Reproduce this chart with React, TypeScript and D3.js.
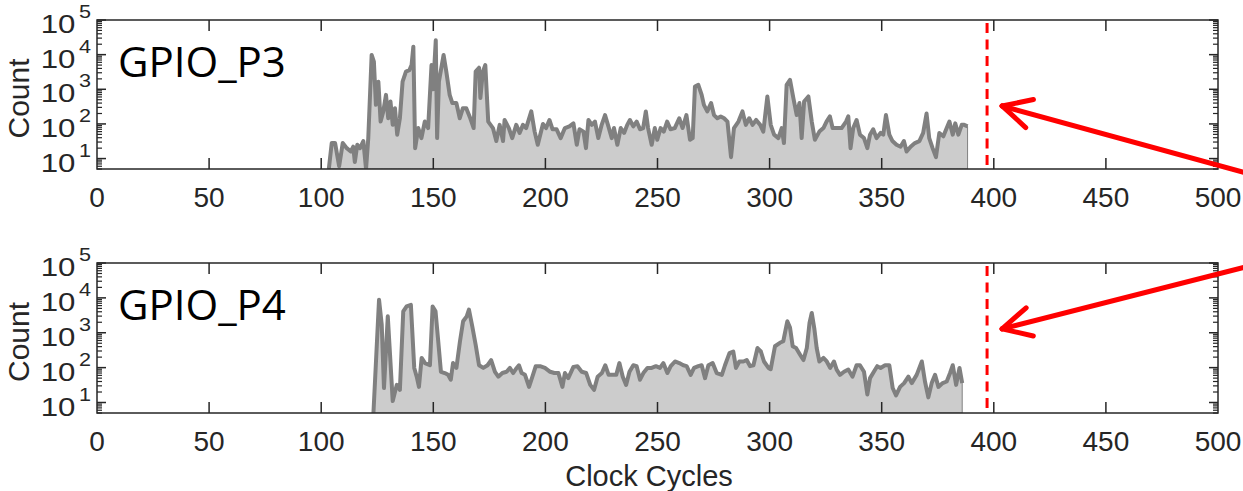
import { useEffect, useRef } from "react";
import * as d3 from "d3";

const W = 1243;
const H = 491;

// GPIO_P3 trace (clock cycle, count)
const p3Cycles = [103.4, 104.7, 106.2, 108, 109.6, 111.4, 113.2, 114.3, 115, 116.1, 117.3, 118.8, 120, 121, 122.5, 123.5, 124.4, 125.5, 126.5, 127.7, 128.9, 129.9, 130.9, 131.9, 132.9, 133.9, 135.1, 136.3, 137.8, 139.3, 140.3, 141.1, 141.9, 143.3, 144.7, 146.2, 147.7, 149.2, 149.9, 151.1, 151.7, 152.5, 154.6, 155.8, 157.3, 158.5, 160.3, 161.8, 163.2, 164.7, 166.5, 168, 168.9, 170.4, 171, 172.1, 173.2, 174.5, 176.6, 178.1, 179.6, 181.1, 181.8, 183.7, 185.2, 187, 188.5, 190, 191.4, 193.7, 195.2, 196.6, 198.9, 200.3, 201.8, 203.2, 205, 206.8, 208.7, 210.7, 212.5, 214, 215.2, 217, 218.1, 219.2, 220.7, 222.1, 223.6, 225.1, 226.6, 228.1, 229.6, 230.6, 232.1, 233.6, 235.1, 236.5, 237.7, 239.2, 240.7, 242.2, 243.6, 244.8, 245.8, 247.4, 248.8, 249.9, 251.4, 252.8, 254.3, 255.8, 257.7, 259.7, 261.2, 262.9, 264.5, 265.7, 266.7, 268.2, 269.7, 270.7, 272.2, 273.9, 275.2, 276.7, 278.2, 279.7, 281.2, 282.8, 284.1, 286.1, 287.9, 289.4, 290.9, 292.4, 294, 295.8, 297.2, 299, 300.5, 302, 303.9, 305.4, 306.4, 307.6, 309.1, 310.6, 312.1, 313.3, 314.3, 315.4, 317.3, 318.8, 320.2, 322.2, 324, 325.4, 326.9, 328.1, 329.9, 332.1, 334.1, 335.1, 336.1, 337.3, 338.8, 340.3, 342.1, 343.6, 344.8, 346.2, 347.7, 349.5, 350.7, 351.9, 353.4, 354.8, 356.6, 358.4, 359.9, 361.1, 362.9, 364.8, 366.8, 368.5, 370, 371.2, 372.7, 374.2, 375.7, 377.5, 379, 380.2, 381.7, 382.8, 384.2, 385.7, 386.8, 388.3];
const p3Counts = [5, 28, 28, 6, 28, 20, 16, 22, 8, 25, 20, 32, 5, 39, 9800, 6300, 355, 1660, 117, 230, 690, 146, 445, 94, 285, 49, 146, 1660, 3240, 3550, 5000, 17000, 20, 76, 39, 117, 76, 5000, 1000, 26000, 39, 1660, 9800, 3240, 690, 400, 400, 146, 285, 285, 146, 76, 3240, 4200, 560, 3240, 5000, 117, 76, 32, 94, 32, 130, 76, 39, 94, 55, 94, 76, 230, 60, 25, 100, 76, 130, 70, 70, 39, 76, 85, 104, 25, 70, 60, 20, 130, 94, 117, 39, 94, 180, 85, 39, 76, 25, 76, 55, 94, 130, 85, 117, 70, 76, 230, 76, 25, 76, 35, 76, 60, 117, 70, 76, 146, 76, 180, 35, 39, 1200, 1340, 690, 355, 230, 400, 180, 146, 165, 146, 117, 11, 76, 117, 230, 94, 146, 94, 130, 94, 60, 620, 94, 49, 39, 76, 28, 1340, 1860, 560, 180, 400, 39, 445, 620, 117, 35, 60, 76, 117, 165, 76, 76, 76, 117, 165, 20, 76, 130, 49, 39, 20, 49, 70, 39, 55, 49, 180, 49, 32, 25, 22, 32, 16, 22, 28, 32, 55, 200, 39, 20, 11, 55, 44, 76, 117, 49, 104, 49, 94, 94, 85];

// GPIO_P4 trace (clock cycle, count)
const p4Cycles = [123.3, 125.8, 127, 128, 129.7, 130.7, 131.9, 133.7, 135.1, 136.6, 138.1, 140, 141.5, 142.6, 143.6, 144.8, 146.3, 148.5, 149.7, 151, 152.2, 153.4, 155.1, 156.6, 157.8, 158.8, 160.3, 161.9, 163.3, 164.9, 165.9, 167.4, 168.9, 170.4, 172.3, 174.2, 175.8, 177.5, 179, 180.8, 182.7, 184.2, 185.6, 187.2, 188.2, 189.4, 190.9, 192.7, 194.2, 195.7, 197.6, 199.8, 202.1, 204, 205.8, 207.6, 208.7, 210.2, 212.5, 214.3, 216.2, 218.2, 220, 221.7, 223.3, 225.2, 226.7, 228.2, 230.1, 231.6, 233, 234.5, 236, 237.5, 239.2, 240.7, 242.2, 243.7, 245.5, 247.4, 249.3, 251.1, 252.6, 254.4, 255.9, 257.8, 259.7, 261.5, 263, 264.8, 266.3, 268.2, 269.7, 271.2, 272.7, 274.6, 276.4, 278.7, 280.1, 282.1, 283.8, 285, 286.5, 288.3, 289.8, 291.3, 292.8, 294.6, 296.1, 297.5, 299.5, 300.5, 302.4, 304.6, 306.1, 307.9, 309.1, 310.3, 311.8, 313.6, 315.1, 316.6, 317.8, 318.8, 320, 321, 322.2, 324, 325.5, 327, 328.7, 329.9, 331.4, 333.2, 335.1, 337, 338.8, 340.3, 342.1, 343.6, 344.8, 346.5, 348, 349.5, 351.5, 353.4, 354.9, 356.4, 358.2, 360, 361.9, 363.4, 365.6, 367.9, 369.3, 370.8, 372.3, 373.8, 375.3, 377.2, 379, 380.5, 381.7, 383.2, 384.7, 385.9];
const p4Counts = [5, 8900, 1700, 26, 2950, 235, 11, 32, 23, 4100, 5700, 6300, 98, 55, 28, 190, 135, 117, 5700, 4100, 570, 76, 70, 62, 45, 135, 98, 570, 2130, 2950, 4600, 1500, 450, 117, 98, 117, 165, 76, 55, 70, 76, 98, 70, 98, 117, 70, 62, 28, 55, 110, 110, 98, 76, 70, 70, 28, 70, 50, 105, 110, 76, 70, 32, 23, 55, 70, 117, 62, 62, 62, 135, 55, 32, 76, 117, 110, 45, 70, 98, 98, 110, 98, 135, 70, 110, 150, 135, 117, 110, 62, 98, 110, 117, 50, 117, 135, 70, 62, 117, 260, 290, 98, 150, 150, 165, 110, 117, 365, 290, 150, 98, 90, 410, 515, 570, 2130, 1400, 410, 365, 235, 165, 365, 1900, 3700, 1250, 365, 150, 190, 150, 98, 150, 88, 62, 76, 88, 55, 117, 117, 76, 17, 50, 76, 110, 98, 117, 117, 26, 16, 28, 36, 55, 36, 62, 150, 40, 14, 36, 62, 28, 36, 40, 70, 117, 32, 98, 36];

const xTicks = [0, 50, 100, 150, 200, 250, 300, 350, 400, 450, 500];
const yExponents = [1, 2, 3, 4, 5];
const xDomain = [0, 500];
const yDomain = [5, 1e5];
const panelNames = ["GPIO_P3", "GPIO_P4"];
const markerCycle = 397;
// arrow annotations: [tip cycle, tip count, tail cycle, tail count]
const arrowTips = [[403.7, 330, 514, 3.6], [403.7, 1290, 514, 82000]];

const panels = [
  { name: panelNames[0], cycles: p3Cycles, counts: p3Counts, top: 20, bottom: 169, arrow: arrowTips[0] },
  { name: panelNames[1], cycles: p4Cycles, counts: p4Counts, top: 263, bottom: 413, arrow: arrowTips[1] },
];

const App = () => {
  const svgRef = useRef<SVGSVGElement>(null);

  useEffect(() => {
    const svg = d3.select(svgRef.current);
    svg.selectAll("*").remove();
    const left = 97;
    const right = 1218;
    const axisColor = "#262626";
    const tickFont = "Liberation Sans, Arial, sans-serif";

    const x = d3.scaleLinear().domain(xDomain).range([left, right]);

    panels.forEach((p, pi) => {
      const y = d3.scaleLog().domain(yDomain).range([p.bottom, p.top]).clamp(true);
      const g = svg.append("g");
      const clipId = `clip${pi}`;
      g.append("clipPath").attr("id", clipId)
        .append("rect").attr("x", left).attr("y", p.top).attr("width", right - left).attr("height", p.bottom - p.top);

      const pts = p.cycles.map((c, i) => [c, p.counts[i]] as [number, number]);
      const area = d3.area<[number, number]>()
        .x((d) => x(d[0]))
        .y0(p.bottom)
        .y1((d) => y(d[1]));
      const line = d3.line<[number, number]>()
        .x((d) => x(d[0]))
        .y((d) => y(d[1]));

      const plot = g.append("g").attr("clip-path", `url(#${clipId})`);
      plot.append("path").attr("d", area(pts)).attr("fill", "#cccccc")
        .attr("stroke", "#808080").attr("stroke-width", 1);
      plot.append("path").attr("d", line(pts)).attr("fill", "none")
        .attr("stroke", "#808080").attr("stroke-width", 4).attr("stroke-linejoin", "round");

      // frame
      g.append("rect").attr("x", left).attr("y", p.top).attr("width", right - left).attr("height", p.bottom - p.top)
        .attr("fill", "none").attr("stroke", axisColor).attr("stroke-width", 1.5);

      // x ticks (top and bottom, inward)
      xTicks.forEach((t) => {
        const xx = x(t);
        if (t > xDomain[0] && t < xDomain[1]) {
          g.append("line").attr("x1", xx).attr("x2", xx).attr("y1", p.bottom).attr("y2", p.bottom - 11)
            .attr("stroke", axisColor).attr("stroke-width", 1.5);
          g.append("line").attr("x1", xx).attr("x2", xx).attr("y1", p.top).attr("y2", p.top + 11)
            .attr("stroke", axisColor).attr("stroke-width", 1.5);
        }
        g.append("text").attr("x", xx).attr("y", p.bottom + 38).attr("text-anchor", "middle")
          .attr("font-family", tickFont).attr("font-size", 28).attr("fill", axisColor).text(t);
      });

      // y ticks, log major + minor
      const minor: number[] = [];
      for (let e = 0; e <= 4; e++) {
        for (let m = 2; m <= 9; m++) {
          const v = m * Math.pow(10, e);
          if (v >= yDomain[0] && v <= yDomain[1]) minor.push(v);
        }
      }
      minor.forEach((v) => {
        [[left, left + 5], [right, right - 5]].forEach(([a, b]) => {
          g.append("line").attr("x1", a).attr("x2", b).attr("y1", y(v)).attr("y2", y(v))
            .attr("stroke", axisColor).attr("stroke-width", 1.2);
        });
      });
      yExponents.forEach((e) => {
        const yy = y(Math.pow(10, e));
        [[left, left + 9], [right, right - 9]].forEach(([a, b]) => {
          g.append("line").attr("x1", a).attr("x2", b).attr("y1", yy).attr("y2", yy)
            .attr("stroke", axisColor).attr("stroke-width", 1.5);
        });
        const lab = g.append("text")
          .attr("transform", `translate(91,${yy + 13}) scale(1.2,1)`)
          .attr("text-anchor", "end").attr("font-family", tickFont).attr("fill", axisColor);
        lab.append("tspan").attr("font-size", 26).text("10");
        lab.append("tspan").attr("font-size", 18).attr("dx", 3).attr("dy", -15).text(e);
      });

      // y label
      g.append("text")
        .attr("transform", `translate(29,${(p.top + p.bottom) / 2 + 4}) rotate(-90)`)
        .attr("text-anchor", "middle").attr("font-family", tickFont).attr("font-size", 30)
        .attr("fill", axisColor).text("Count");

      // panel name
      g.append("text").attr("x", 118).attr("y", p.top + 57)
        .attr("font-family", "Open Sans, sans-serif").attr("font-size", 42).attr("fill", "#000").text(p.name);

      // red dashed marker
      g.append("line").attr("x1", x(markerCycle)).attr("x2", x(markerCycle))
        .attr("y1", p.top + 3).attr("y2", p.bottom)
        .attr("stroke", "#ff0000").attr("stroke-width", 3).attr("stroke-dasharray", "10,6.5");

      // arrow
      const [tc, tv, ec, ev] = p.arrow;
      const yFree = y.copy().clamp(false);
      const tx = x(tc), ty = yFree(tv);
      const ex = x(ec), ey = yFree(ev);
      const ang = Math.atan2(ey - ty, ex - tx);
      const headLen = 32;
      const spread = (27 * Math.PI) / 180;
      const red = "#ff0000";
      g.append("line").attr("x1", tx).attr("y1", ty).attr("x2", ex).attr("y2", ey)
        .attr("stroke", red).attr("stroke-width", 5).attr("stroke-linecap", "round");
      [ang - spread, ang + spread].forEach((a) => {
        g.append("line").attr("x1", tx).attr("y1", ty)
          .attr("x2", tx + headLen * Math.cos(a)).attr("y2", ty + headLen * Math.sin(a))
          .attr("stroke", red).attr("stroke-width", 5).attr("stroke-linecap", "round");
      });
    });

    svg.append("text").attr("x", 649).attr("y", 486).attr("text-anchor", "middle")
      .attr("font-family", "Liberation Sans, Arial, sans-serif").attr("font-size", 29)
      .attr("fill", "#262626").text("Clock Cycles");
  }, []);

  return (
    <svg ref={svgRef} width={W} height={H}
      style={{ position: "absolute", left: 0, top: 0, background: "#fff", display: "block" }} />
  );
};

export default App;
